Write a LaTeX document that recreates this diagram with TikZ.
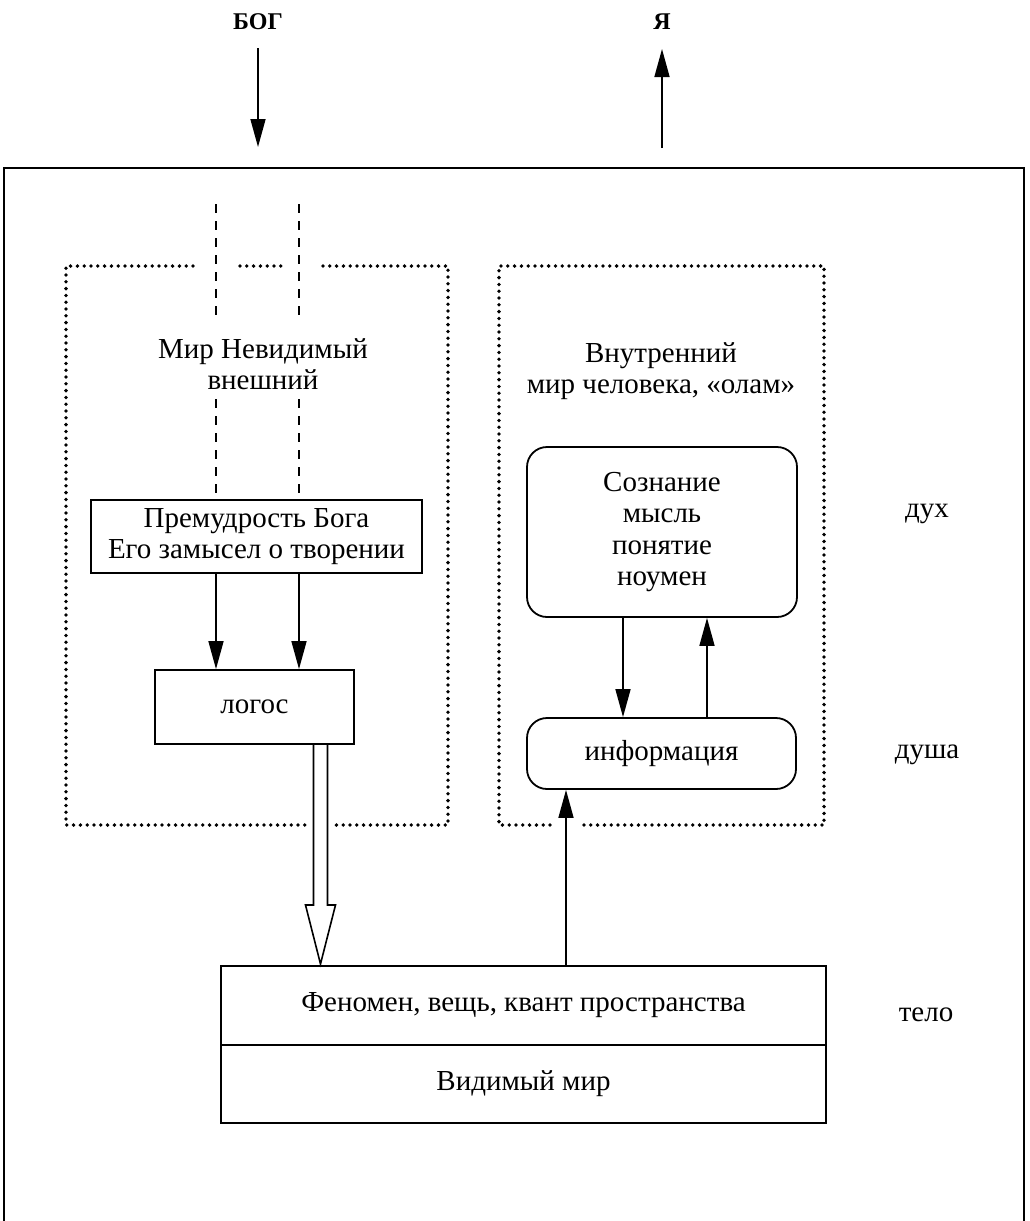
\documentclass[tikz,border=0pt]{standalone}
\usepackage{fontspec}
\setmainfont{Liberation Serif}
\usetikzlibrary{arrows.meta}
\begin{document}
\begin{tikzpicture}[x=1pt,y=-1pt,
  txt/.style={font=\fontsize{29}{31.5}\selectfont, align=center, inner sep=0pt},
  sqbox/.style={draw, line width=1.8pt, inner sep=0pt, align=center, font=\fontsize{29}{31.5}\selectfont},
  rbox/.style={sqbox, rounded corners=20pt},
  arr/.style={line width=1.6pt, -{Triangle[length=28pt,width=15pt]}},
  hollowarr/.style={line width=1.6pt, fill=white, line join=miter},
  dotline/.style={line width=3.8pt, line cap=round, dash pattern=on 0pt off 6.8pt},
  dashline/.style={line width=1.5pt, dash pattern=on 9pt off 8pt},
  title/.style={font=\fontsize{24}{26}\selectfont\bfseries, inner sep=0pt}
]
\useasboundingbox (0,0) rectangle (1029,1221);
\clip (0,0) rectangle (1029,1221);

% outer frame
\draw[line width=1.8pt] (4,1240) -- (4,168) -- (1024,168) -- (1024,1240);

% titles and top arrows
\node[title] (bog) at (258,22) {БОГ};
\node[title] (ya) at (662,22) {Я};
\coordinate (bogA) at (258,48);
\coordinate (bogB) at (258,147);
\coordinate (yaA) at (662,148);
\coordinate (yaB) at (662,49);
\draw[arr] (bogA) -- (bogB);
\draw[arr] (yaA) -- (yaB);

% dotted boxes
\draw[dotline] (193,266) -- (66,266) -- (66,825) -- (307,825);
\draw[dotline] (240,266) -- (285,266);
\draw[dotline] (323,266) -- (448,266) -- (448,825) -- (335,825);
\draw[dotline] (550,825) -- (499,825) -- (499,266) -- (824,266) -- (824,825) -- (578,825);

% boxes
\node[sqbox, minimum width=331pt, minimum height=73pt] (prem) at (256.5,536.5) {Премудрость Бога\\Его замысел о творении};
\node[sqbox, minimum width=199pt, minimum height=74pt] (logos) at (254.5,707) {логос};
\node[rbox, minimum width=270pt, minimum height=170pt] (soz) at (662,532) {Сознание\\мысль\\понятие\\ноумен};
\node[rbox, minimum width=269pt, minimum height=71pt] (info) at (661.5,753.5) {информация};
\node[sqbox, minimum width=605pt, minimum height=79pt] (phen) at (523.5,1005.5) {Феномен, вещь, квант пространства};
\node[sqbox, minimum width=605pt, minimum height=78pt] (vid) at (523.5,1084) {Видимый мир};

% labels
\node[txt] (mir) at (263,364) {Мир Невидимый\\внешний};
\node[txt] (vnut) at (661,371) {Внутренний\\мир человека, «олам»};
\node[txt, anchor=base] (duh) at (927,517) {дух};
\node[txt, anchor=base] (dusha) at (927,758) {душа};
\node[txt, anchor=base] (telo) at (926,1021) {тело};

% dashed lines
\coordinate (dl) at (216,0);
\coordinate (dr) at (299,0);
\draw[dashline] (216,204) -- (216,322);
\draw[dashline] (216,399) -- (prem.north -| dl);
\draw[dashline] (299,204) -- (299,322);
\draw[dashline] (299,399) -- (prem.north -| dr);

% arrows
\draw[arr] (prem.south -| dl) -- (logos.north -| dl);
\draw[arr] (prem.south -| dr) -- (logos.north -| dr);
\coordinate (c1) at (623,0);
\coordinate (c2) at (707,0);
\coordinate (c3) at (566,0);
\draw[arr] (soz.south -| c1) -- (info.north -| c1);
\draw[arr] (info.north -| c2) -- (soz.south -| c2);
\draw[arr] (phen.north -| c3) -- (info.south -| c3);

% hollow arrow logos -> phenomenon
\draw[hollowarr] (313.5,745) -- (313.5,905) -- (305.5,905) -- (320.5,964) -- (335.5,905) -- (327.5,905) -- (327.5,745);
\end{tikzpicture}
\end{document}
